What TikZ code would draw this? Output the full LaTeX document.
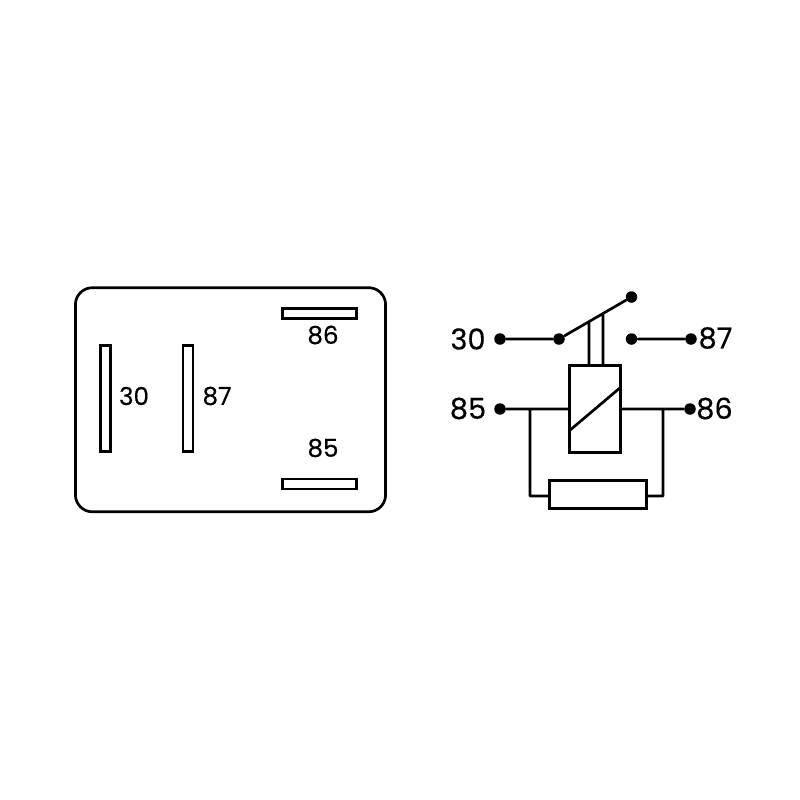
\documentclass[tikz,border=0pt]{standalone}
\usepackage{fontspec}
\setmainfont[FakeBold=0.4]{Poppins}
\usepackage{tikz}
\usetikzlibrary{positioning, calc}
\tikzset{
    wire/.style={line width=0.027cm, line cap=round, line join=round},
    pinbox/.style={draw, line width=0.027cm, inner sep=0, outer sep=0},
    vpin/.style={pinbox, minimum width=0.1cm, minimum height=1.065cm},
    hpin/.style={pinbox, minimum width=0.735cm, minimum height=0.1cm},
    terminal/.style={circle, fill, inner sep=0, minimum size=0.115cm},
    small/.style={font=\fontsize{7}{8}\selectfont, inner sep=0},
    big/.style={font=\fontsize{8.2}{9}\selectfont, inner sep=0}
}

\begin{document}
\begin{tikzpicture}[x=0.01cm, y=-0.01cm]
        \useasboundingbox (0, 0) rectangle (800, 800);

        % socket
        \node[pinbox, rounded corners=0.17cm, minimum width=3.1cm, minimum height=2.24cm] (socket) at (230.5, 399.75) {};
        \node[vpin] (pa) at (105.2, 398.5) {}; % 30
        \node[vpin] (pb) at (188, 398.5) {}; % 87
        \node[hpin] (pc) at (319.5, 313.2) {}; % 86
        \node[hpin] (pd) at (319.5, 484) {}; % 85
        \node[small] (la) at (134, 396) {30};
        \node[small] (lb) at (217, 396) {87};
        \node[small] (lc) at (323, 335) {86};
        \node[small] (ld) at (323, 448) {85};

        % schematic
        \node[terminal] (t30) at (500, 339) {};
        \node[terminal] (c) at (559, 339) {}; % lever pivot
        \node[terminal] (o) at (631.5, 297) {}; % lever end
        \node[terminal] (k) at (631.5, 339) {};
        \node[terminal] (t87) at (691, 339) {};
        \node[terminal] (t85) at (500, 409) {};
        \node[terminal] (t86) at (690, 409) {};
        \node[pinbox, minimum width=0.515cm, minimum height=0.875cm] (coil) at (595, 409) {};
        \node[pinbox, minimum width=0.975cm, minimum height=0.285cm] (res) at (598, 494.5) {};
        \node[big] (l30) at (468, 339) {30};
        \node[big] (l87) at (715.5, 338) {87};
        \node[big] (l85) at (468, 408.5) {85};
        \node[big] (l86) at (714.5, 408.5) {86};

        \coordinate (ra) at (589, 321.5);
        \coordinate (rb) at (603, 313.5);
        \coordinate (rc) at (589, 365);
        \coordinate (rd) at (603, 365);
        \coordinate (da) at (569, 431);
        \coordinate (db) at (621, 387);
        \coordinate (ja) at (530, 409);
        \coordinate (jb) at (530, 496);
        \coordinate (jc) at (663, 409);
        \coordinate (jd) at (663, 496);

        \draw[wire]
            (t30) -- (c)
            (c) -- (o)
            (k) -- (t87)
            (ra) -- (rc)
            (rb) -- (rd)
            (da) -- (db)
            (t85) -- (coil.west)
            (coil.east) -- (t86)
            (ja) -- (jb) -- (jb -| res.west)
            (jc) -- (jd) -- (jd -| res.east)
            ;
    \end{tikzpicture}
\end{document}
